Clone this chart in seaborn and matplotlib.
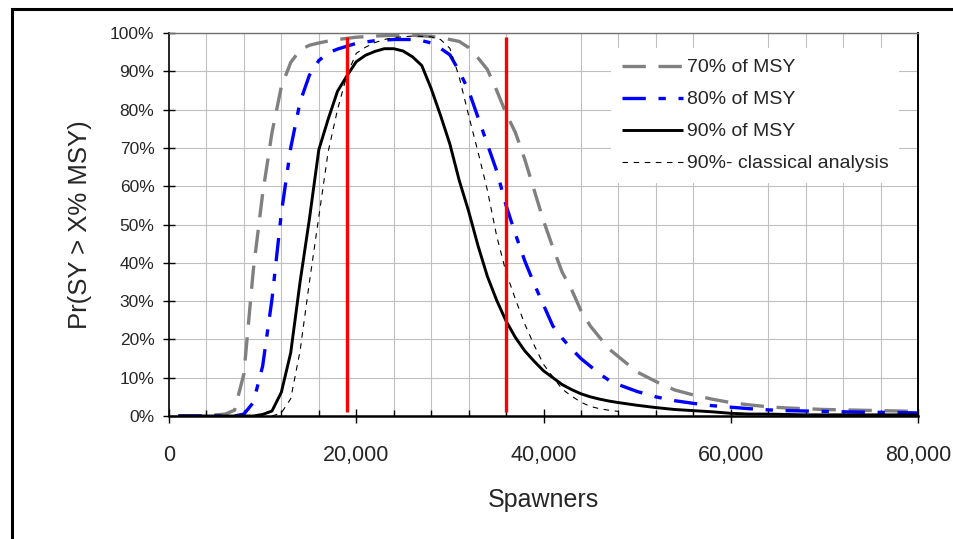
import numpy as np
import pandas as pd
import seaborn as sns
import matplotlib
matplotlib.use("Agg")
import matplotlib.pyplot as plt
from matplotlib.ticker import MultipleLocator, FuncFormatter
from matplotlib.patches import Rectangle

# ---------------- data ----------------
x_70 = [1000, 2000, 3000, 4000, 5000, 6000, 7000, 8000, 9000, 10000, 11000, 12000,
        13000, 14000, 15000, 16000, 17000, 18000, 19000, 20000, 22000, 24000, 26000,
        28000, 29000, 30000, 31000, 32000, 33000, 34000, 35000, 36000, 37000, 38000,
        39000, 40000, 41000, 42000, 43000, 44000, 45000, 46000, 47000, 48000, 50000,
        52000, 54000, 56000, 58000, 60000, 62000, 64000, 66000, 68000, 70000, 72000,
        74000, 76000, 78000, 80000]
y_70 = [0, 0, 0, 0, 0.3, 0.5, 1.5, 11, 38, 58, 74, 86,
        92.3, 95.6, 96.8, 97.4, 97.9, 98.3, 98.6, 98.9, 99.2, 99.4, 99.4,
        99.1, 98.8, 98.3, 97.8, 96.2, 93.5, 90.5, 85, 79, 74, 67,
        59, 51, 44, 37.5, 33, 27.5, 23.5, 20.5, 17.5, 15.5, 11.5,
        9, 6.8, 5.5, 4.4, 3.5, 2.9, 2.4, 2.1, 1.9, 1.7, 1.6,
        1.5, 1.4, 1.3, 1.2]

x_80 = [1000, 2000, 3000, 4000, 5000, 6000, 7000, 8000, 9000, 10000, 11000, 12000,
        13000, 14000, 15000, 16000, 17000, 18000, 20000, 22000, 24000, 26000, 27000,
        28000, 29000, 30000, 31000, 32000, 33000, 34000, 35000, 36000, 37000, 38000,
        39000, 40000, 41000, 42000, 43000, 44000, 45000, 46000, 47000, 48000, 50000,
        52000, 54000, 56000, 58000, 60000, 62000, 64000, 66000, 68000, 70000, 72000,
        74000, 76000, 78000, 80000]
y_80 = [0, 0, 0, 0, 0, 0, 0, 0.5, 3.5, 13, 30.5, 53,
        70, 82, 89, 92.8, 94.8, 95.8, 97.3, 98, 98.3, 98.3, 98,
        97.4, 96, 94.3, 90, 85, 78, 71, 64, 55, 47.5, 40.5,
        34.5, 29, 23.5, 20.3, 17.5, 15, 13, 11, 9.3, 8.2, 6.4,
        5, 4, 3.3, 2.7, 2.3, 1.9, 1.6, 1.4, 1.3, 1.2, 1.1,
        1.0, 0.95, 0.9, 0.8]

x_90 = [1000, 2000, 3000, 4000, 5000, 6000, 7000, 8000, 9000, 10000, 11000, 12000,
        13000, 14000, 15000, 16000, 17000, 18000, 19000, 20000, 21000, 22000, 23000,
        24000, 25000, 26000, 27000, 28000, 29000, 30000, 31000, 32000, 33000, 34000,
        35000, 36000, 37000, 38000, 39000, 40000, 41000, 42000, 43000, 44000, 45000,
        46000, 47000, 48000, 50000, 52000, 54000, 56000, 58000, 60000, 62000, 64000,
        66000, 68000, 70000, 72000, 74000, 76000, 78000, 80000]
y_90 = [0, 0, 0, 0, 0, 0, 0, 0, 0, 0.4, 1.3, 6.2,
        16.5, 35, 51.5, 69.5, 77.5, 84.8, 88.8, 92.5, 94.2, 95.2, 95.9,
        95.9, 95.3, 93.8, 91.5, 85.5, 78.5, 71, 61.5, 53.5, 44.5, 36.5,
        30.2, 24.8, 20.5, 17, 14.3, 11.8, 10, 8.2, 6.9, 5.8, 5,
        4.4, 3.9, 3.5, 2.8, 2.2, 1.7, 1.4, 1.1, 0.7, 0.5, 0.5,
        0.4, 0.3, 0.3, 0.3, 0.3, 0.3, 0.3, 0.3]

x_cls = [11000, 12000, 13000, 14000, 15000, 16000, 17000, 18000, 19000, 20000, 21000,
         22000, 23000, 24000, 26000, 28000, 29000, 30000, 31000, 32000, 33000, 34000,
         35000, 36000, 37000, 38000, 39000, 40000, 41000, 42000, 43000, 44000, 45000,
         46000, 47000, 48000]
y_cls = [0, 0.8, 4.5, 17, 35, 52, 69, 80, 89, 94.7, 96.3,
         97.5, 98.3, 98.8, 99.2, 99, 98.3, 96, 88.5, 78.5, 69, 59,
         47, 37.5, 30.5, 24, 18.5, 13.5, 10.2, 7, 5.2, 3.6, 2.5,
         1.9, 1.5, 1.2]

ref_x1 = [19000, 19000]
ref_x2 = [36000, 36000]
ref_y = [1, 99]

labels = ["70% of MSY", "80% of MSY", "90% of MSY", "90%- classical analysis"]
x_ticks = [0, 20000, 40000, 60000, 80000]
y_ticks = [0, 10, 20, 30, 40, 50, 60, 70, 80, 90, 100]

# ---------------- style ----------------
sns.set_style("white")
plt.rcParams["font.family"] = ["Liberation Sans", "DejaVu Sans"]

W, H = 954, 539
fig = plt.figure(figsize=(W / 100, H / 100), dpi=100)
ax = fig.add_axes([169 / W, 1 - 416 / H, (918 - 169) / W, (416 - 33) / H])

# chart-area border
fig.patches.append(Rectangle((12 / W, -0.05), 1.2, 1 - 9 / H + 0.05,
                             transform=fig.transFigure, fill=False,
                             edgecolor="black", linewidth=2.2, zorder=0))

common = dict(ax=ax, estimator=None, sort=False, legend=False)
sns.lineplot(x=x_70, y=y_70, color="#808080", linewidth=2.4,
             linestyle=(0, (7, 3.8)), **common)
sns.lineplot(x=x_80, y=y_80, color="#0000FF", linewidth=2.4,
             linestyle=(0, (7, 3.8, 2.2, 3.8)), **common)
sns.lineplot(x=x_90, y=y_90, color="black", linewidth=2.1, **common)
sns.lineplot(x=x_cls, y=y_cls, color="black", linewidth=0.8,
             linestyle=(0, (5, 5)), **common)
sns.lineplot(x=ref_x1, y=ref_y, color="#FF0000", linewidth=2.4, **common)
sns.lineplot(x=ref_x2, y=ref_y, color="#FF0000", linewidth=2.4, **common)

for ln in ax.lines:
    ln.set_solid_capstyle("butt")
    ln.set_dash_capstyle("butt")

ax.set_xlim(0, 80000)
ax.set_ylim(0, 100)
ax.set_xticks(x_ticks)
ax.xaxis.set_minor_locator(MultipleLocator(4000))
ax.set_yticks(y_ticks)
ax.xaxis.set_major_formatter(FuncFormatter(lambda v, p: f"{v:,.0f}"))
ax.yaxis.set_major_formatter(FuncFormatter(lambda v, p: f"{v:.0f}%"))

ax.grid(False)
ax.grid(True, which="minor", axis="x", color="#c0c0c0", linewidth=0.8)
ax.grid(True, which="major", axis="y", color="#c0c0c0", linewidth=0.8)
ax.set_axisbelow(True)

ax.tick_params(axis="x", which="major", direction="inout", length=10, width=1,
               color="black", labelsize=15.5, pad=16, bottom=True)
ax.tick_params(axis="x", which="minor", direction="in", length=4, width=1,
               color="black", bottom=True)
ax.tick_params(axis="y", which="major", direction="inout", length=9, width=1,
               color="black", labelsize=12.5, pad=6, left=True)

for side in ["left", "bottom", "top", "right"]:
    ax.spines[side].set_visible(True)
    ax.spines[side].set_color("black")
ax.spines["left"].set_linewidth(1.2)
ax.spines["bottom"].set_linewidth(1.8)
ax.spines["top"].set_linewidth(1.0)
ax.spines["top"].set_color("#707070")
ax.spines["right"].set_linewidth(1.4)

ax.set_xlabel("Spawners", fontsize=18, labelpad=16)
ax.set_ylabel("Pr(SY > X% MSY)", fontsize=18.5, labelpad=13)

handles = ax.lines[:4]
leg = ax.legend(handles, labels, loc="upper left",
                bbox_to_anchor=((611 - 169) / 749, (416 - 48) / 383),
                fontsize=14, frameon=True, facecolor="white", edgecolor="none",
                framealpha=1, fancybox=False, borderpad=0.55,
                handlelength=3.15, handletextpad=0.2, labelspacing=0.74,
                borderaxespad=0)

fig.savefig("out.png", dpi=100, facecolor="white")
